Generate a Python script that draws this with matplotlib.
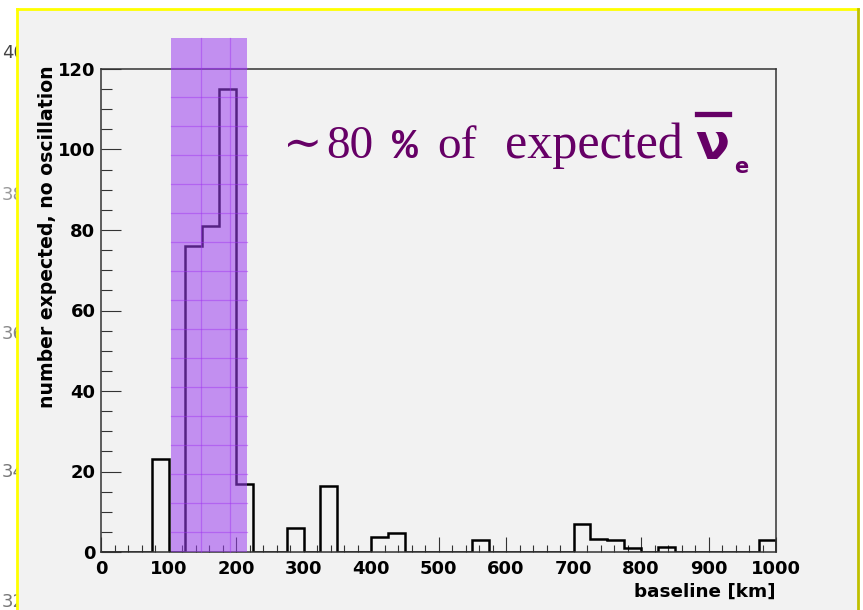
#Import libraries
import matplotlib
matplotlib.use("Agg")
import matplotlib.pyplot as plt
from matplotlib.patches import Rectangle
from matplotlib.lines import Line2D
from matplotlib.ticker import MultipleLocator
import numpy as np

#Histogram data: 25 km bins from 0 to 1000 km
bin_edges = np.arange(0, 1001, 25)
counts = [0, 0, 0, 23, 0, 76, 81, 115, 17, 0,
          0, 6, 0, 16.5, 0, 0, 3.7, 4.7, 0, 0,
          0, 0, 2.9, 0, 0, 0, 0, 0, 6.9, 3.2,
          2.9, 0.9, 0, 1.3, 0, 0, 0, 0, 0, 2.9]
band_range = [104, 216]          # highlighted baseline window [km]
x_ticks = list(range(0, 1001, 100))
y_ticks = list(range(0, 121, 20))
side_labels = ["40", "38", "36", "34", "32"]

W, H = 863, 610
fig = plt.figure(figsize=(W / 100, H / 100), dpi=100)
fig.patch.set_facecolor("white")

def fx(px):
    return px / W

def fy(py):
    return 1 - py / H

#Leftover labels of the slide underneath (clipped by the frame)
for lab, col, py in zip(side_labels, ["#444444", "#999999", "#888888", "#777777", "#777777"],
                        [53, 195, 334, 472, 602]):
    fig.text(fx(2), fy(py), lab, fontsize=13, color=col,
             ha="left", va="center", zorder=-3)

#Slide frame
fig.patches.append(Rectangle((fx(17), 0), fx(858) - fx(17), fy(9), transform=fig.transFigure,
                             facecolor="#f2f2f2", edgecolor="none", zorder=-2))
fig.lines.append(Line2D([fx(17), fx(858)], [fy(9), fy(9)], transform=fig.transFigure,
                        color="#ffff00", lw=2, zorder=-1))
fig.lines.append(Line2D([fx(17), fx(17)], [0, fy(9)], transform=fig.transFigure,
                        color="#ffff00", lw=2, zorder=-1))
fig.lines.append(Line2D([fx(858), fx(858)], [0, fy(9)], transform=fig.transFigure,
                        color="#c0c000", lw=2, zorder=-1))

ax = fig.add_axes([fx(101), fy(552), fx(776) - fx(101), fy(69) - fy(552)])
ax.set_facecolor("none")

ax.stairs(counts, bin_edges, baseline=0, fill=False, color="black", lw=1.8, zorder=2)

ax.set_xlim(0, 1000)
ax.set_ylim(0, 120)
ax.set_xticks(x_ticks)
ax.set_yticks(y_ticks)
ax.xaxis.set_minor_locator(MultipleLocator(20))
ax.yaxis.set_minor_locator(MultipleLocator(5))
ax.tick_params(axis="x", which="major", direction="in", length=10.8, width=0.8,
               color="#333333", pad=6)
ax.tick_params(axis="x", which="minor", direction="in", length=5, width=0.8, color="#333333")
ax.tick_params(axis="y", which="major", direction="in", length=14.4, width=0.8,
               color="#333333", pad=4)
ax.tick_params(axis="y", which="minor", direction="in", length=8, width=0.8, color="#333333")
for lab in ax.get_xticklabels() + ax.get_yticklabels():
    lab.set_fontweight("bold")
    lab.set_fontsize(13)
for sp in ax.spines.values():
    sp.set_color("#333333")
    sp.set_linewidth(1.1)

#Highlight band on top of everything
ax.add_patch(Rectangle((band_range[0], 0), band_range[1] - band_range[0], 127.8,
                       facecolor="#9b3ff0", edgecolor="none", alpha=0.55,
                       clip_on=False, zorder=5))
for gx in [147.5, 191]:
    ax.plot([gx, gx], [0, 127.8], color="#a030f0", lw=0.9, alpha=0.45,
            clip_on=False, zorder=6)
for gy in np.arange(4.9, 127, 7.215):
    ax.plot(band_range, [gy, gy], color="#a030f0", lw=0.9, alpha=0.45,
            clip_on=False, zorder=6)

#Axis titles
fig.text(fx(776), fy(592), "baseline [km]", fontsize=13.2, fontweight="bold",
         ha="right", va="center")
fig.text(fx(48), fy(65), "number expected, no oscillation", fontsize=13.6,
         fontweight="bold", rotation=90, rotation_mode="anchor", ha="right", va="center")

#Annotation
purple = "#660066"
serif = ["Liberation Serif", "DejaVu Serif"]
fig.text(fx(283), fy(158), "\u223c", fontsize=34, color=purple, family=["DejaVu Serif"],
         ha="left", va="baseline")
fig.text(fx(326), fy(158), "80", fontsize=34, color=purple, family=serif,
         ha="left", va="baseline")
fig.text(fx(392), fy(158), "%", fontsize=31, color=purple, family=["Liberation Mono"],
         ha="left", va="baseline", fontweight="bold")
fig.text(fx(437), fy(158), "of", fontsize=34, color=purple, family=serif,
         ha="left", va="baseline")
fig.text(fx(505), fy(158), "expected", fontsize=36, color=purple, family=serif,
         ha="left", va="baseline")
fig.text(fx(695), fy(159), "\u03bd", fontsize=36, color=purple, fontweight="bold",
         ha="left", va="baseline")
fig.lines.append(Line2D([fx(697), fx(729)], [fy(113.5), fy(113.5)], transform=fig.transFigure,
                        color=purple, lw=3.8, zorder=3))
fig.text(fx(734), fy(173), "e", fontsize=15, color=purple, fontweight="bold",
         ha="left", va="baseline")

fig.savefig("out.png", dpi=100)
